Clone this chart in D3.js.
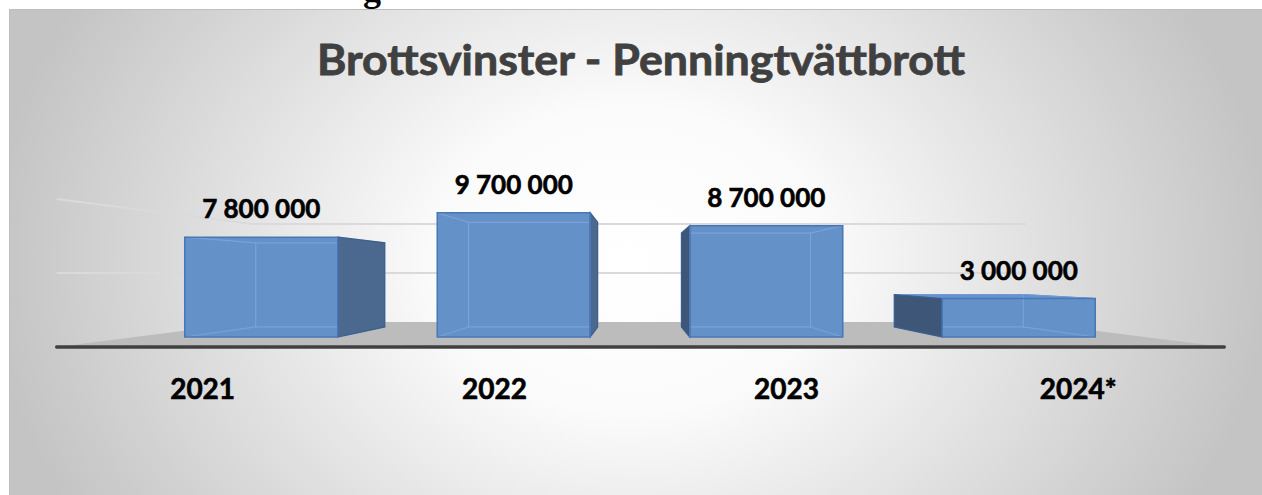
<!DOCTYPE html>
<html lang="sv">
<head>
<meta charset="UTF-8">
<title>Brottsvinster - Penningtvättbrott</title>
<script src="https://d3js.org/d3.v7.min.js"></script>
<style>
    body { margin: 0; background: #fff; }
    svg text { font-family: Lato, "Open Sans", sans-serif; font-weight: 700; }
</style>
</head>
<body>
<div id="chart"></div>
<script>
    // Data
    const years = ["2021", "2022", "2023", "2024*"];
    const values = [7800000, 9700000, 8700000, 3000000];
    const gridTicks = [5000000, 10000000];
    const chartTitle = "Brottsvinster - Penningtvättbrott";

    const width = 1262, height = 495;

    // 3D-känsla: flyktpunkt och djup (skalfaktor mot flyktpunkten)
    const vp = { x: 637, y: 273 };
    const depth = { front: 1, back: 0.843, floorFront: 1.156, wall: 0.766 };

    const fmt = d3.formatLocale({ decimal: ",", thousands: " ", grouping: [3], currency: ["", " kr"] }).format(",");

    const svg = d3.select("#chart").append("svg")
        .attr("width", width)
        .attr("height", height);

    // bakgrund
    const defs = svg.append("defs");
    const grad = defs.append("radialGradient")
        .attr("id", "bg")
        .attr("gradientUnits", "userSpaceOnUse")
        .attr("cx", 630).attr("cy", 260).attr("r", 640)
        .attr("gradientTransform", "translate(630,260) scale(1,0.8) translate(-630,-260)");
    grad.append("stop").attr("offset", 0).attr("stop-color", "#ffffff");
    grad.append("stop").attr("offset", 0.3).attr("stop-color", "#fbfbfb");
    grad.append("stop").attr("offset", 1).attr("stop-color", "#c4c4c4");

    // avklippt rubrik ovanför diagrammet
    svg.append("text")
        .attr("x", 363).attr("y", 1)
        .style("font-family", "'Liberation Serif', serif")
        .style("font-size", "36px")
        .attr("fill", "#000")
        .text("g");

    svg.append("rect")
        .attr("x", 9.5).attr("y", 9.5)
        .attr("width", width).attr("height", height)
        .attr("fill", "url(#bg)")
        .attr("stroke", "#bfbfbf");

    // Skalor
    const x = d3.scaleBand()
        .domain(years)
        .range([135, 1145])
        .paddingInner(0.394)
        .paddingOuter(0.197);

    const y = d3.scaleLinear()
        .domain([0, 10000000])
        .range([337, 209]);

    const proj = (p, s) => [vp.x + (p[0] - vp.x) * s, vp.y + (p[1] - vp.y) * s];
    const poly = pts => d3.line()(pts) + "Z";

    const [xl, xr] = x.range();
    const base = y(0);

    // golv
    const floor = [
        proj([xl, base], depth.floorFront),
        proj([xr, base], depth.floorFront),
        proj([xr, base], depth.wall),
        proj([xl, base], depth.wall)
    ];
    svg.append("path")
        .attr("d", poly(floor))
        .attr("fill", "#bcbcbc");

    // stödlinjer (vänster vägg + bakvägg)
    svg.append("g").selectAll("path")
        .data(gridTicks)
        .join("path")
        .attr("d", v => d3.line()([
            proj([xl, y(v)], depth.floorFront),
            proj([xl, y(v)], depth.wall),
            proj([xr, y(v)], depth.wall)
        ]))
        .attr("fill", "none")
        .attr("stroke", "#dadada")
        .attr("stroke-width", 2);

    // x-axel
    svg.append("path")
        .attr("d", d3.line()([floor[0], floor[1]]))
        .attr("stroke", "#404040")
        .attr("stroke-width", 3.5)
        .attr("stroke-linecap", "round");

    // staplar
    const bars = svg.append("g");
    years.forEach((yr, i) => {
        const x0 = x(yr), x1 = x0 + x.bandwidth();
        const yt = y(values[i]);
        const front = [[x0, yt], [x1, yt], [x1, base], [x0, base]];
        const back = front.map(p => proj(p, depth.back));
        const g = bars.append("g");

        const cx = (x0 + x1) / 2;
        if (yt > vp.y) {
            g.append("path")
                .attr("d", poly([front[0], front[1], back[1], back[0]]))
                .attr("fill", "#6994cb")
                .attr("stroke", "#4877b6")
                .attr("stroke-width", 1.2);
        }

        g.append("path")
            .attr("d", poly(front))
            .attr("fill", "#6591c9");

        // dolda kanter syns genom
        const hidden = [d3.line()(back) + "Z"].concat(front.map((p, k) => d3.line()([p, back[k]])));
        g.selectAll(".hid")
            .data(hidden)
            .join("path")
            .attr("class", "hid")
            .attr("d", d => d)
            .attr("fill", "none")
            .attr("stroke", "#80aae0")
            .attr("stroke-opacity", 0.7)
            .attr("stroke-width", 1.2);

        const side = cx < vp.x
            ? [front[1], back[1], back[2], front[2]]
            : [front[0], back[0], back[3], front[3]];
        g.append("path")
            .attr("d", poly(side))
            .attr("fill", cx < vp.x ? "#4b698e" : "#3e5677")
            .attr("stroke", "#3d5f8c")
            .attr("stroke-width", 1.2);

        g.append("path")
            .attr("d", poly(front))
            .attr("fill", "none")
            .attr("stroke", "#4877b6")
            .attr("stroke-width", 1.5);
    });

    // värdeetiketter
    svg.append("g").selectAll("text")
        .data(years)
        .join("text")
        .attr("x", d => x(d) + x.bandwidth() / 2)
        .attr("y", (d, i) => y(values[i]) - 19)
        .attr("text-anchor", "middle")
        .style("font-size", "26px")
        .attr("fill", "#000")
        .attr("stroke", "#000")
        .attr("stroke-width", 0.6)
        .text((d, i) => fmt(values[i]));

    // kategorietiketter
    svg.append("g").selectAll("text")
        .data(years)
        .join("text")
        .attr("x", d => proj([x(d) + x.bandwidth() / 2, base], depth.floorFront)[0])
        .attr("y", 399)
        .attr("text-anchor", "middle")
        .style("font-size", "28px")
        .attr("fill", "#000")
        .attr("stroke", "#000")
        .attr("stroke-width", 0.6)
        .text(d => d);

    // titel
    svg.append("text")
        .attr("x", 641).attr("y", 75)
        .attr("text-anchor", "middle")
        .style("font-size", "42px")
        .attr("textLength", 648)
        .attr("lengthAdjust", "spacingAndGlyphs")
        .attr("fill", "#404040")
        .attr("stroke", "#404040")
        .attr("stroke-width", 0.8)
        .text(chartTitle);
</script>
</body>
</html>
